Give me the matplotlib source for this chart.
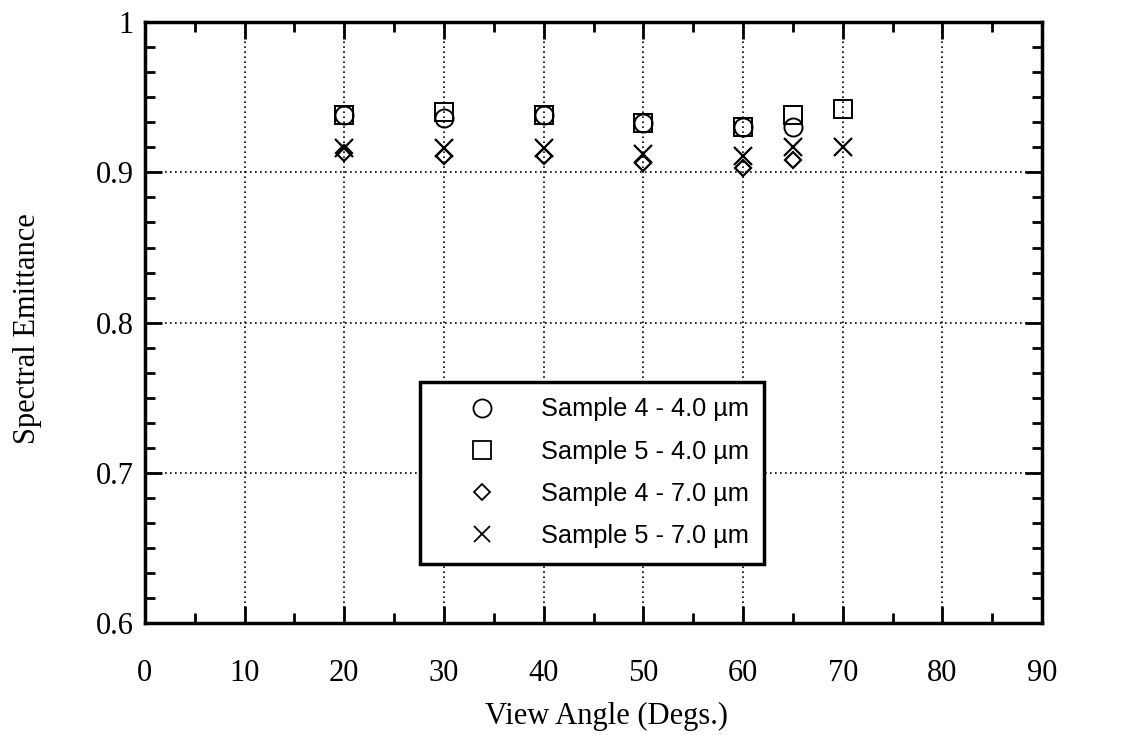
import numpy as np
import matplotlib.pyplot as plt
from matplotlib.ticker import MultipleLocator

# data
x_s4_40 = [20, 30, 40, 50, 60, 65]
y_s4_40 = [0.938, 0.936, 0.938, 0.933, 0.930, 0.930]

x_s5_40 = [20, 30, 40, 50, 60, 65, 70]
y_s5_40 = [0.938, 0.940, 0.938, 0.933, 0.930, 0.938, 0.942]

x_s4_70 = [20, 30, 40, 50, 60, 65]
y_s4_70 = [0.913, 0.911, 0.911, 0.906, 0.903, 0.908]

x_s5_70 = [20, 30, 40, 50, 60, 65, 70]
y_s5_70 = [0.916, 0.916, 0.916, 0.912, 0.911, 0.917, 0.917]

labels = ['Sample 4 - 4.0 µm', 'Sample 5 - 4.0 µm',
          'Sample 4 - 7.0 µm', 'Sample 5 - 7.0 µm']

serif = ['Liberation Serif', 'DejaVu Serif']
sans = ['Liberation Sans', 'DejaVu Sans']

fig = plt.figure(figsize=(11.23, 7.35), dpi=100)
ax = fig.add_axes([0.129, 0.152, 0.799, 0.818])

ax.plot(x_s4_40, y_s4_40, 'o', ms=13, mfc='none', mec='black', mew=1.4, label=labels[0])
ax.plot(x_s5_40, y_s5_40, 's', ms=13, mfc='none', mec='black', mew=1.4, label=labels[1])
ax.plot(x_s4_70, y_s4_70, 'D', ms=8.5, mfc='none', mec='black', mew=1.6, label=labels[2])
ax.plot(x_s5_70, y_s5_70, 'x', ms=13, mec='black', mew=1.6, label=labels[3])

ax.set_xlim(0, 90)
ax.set_ylim(0.6, 1.0)
ax.xaxis.set_major_locator(MultipleLocator(10))
ax.xaxis.set_minor_locator(MultipleLocator(5))
ax.yaxis.set_major_locator(MultipleLocator(0.1))
ax.yaxis.set_minor_locator(MultipleLocator(0.1 / 6))
ax.yaxis.set_major_formatter(plt.FuncFormatter(lambda v, p: '%g' % round(v, 2)))

ax.tick_params(which='both', direction='in', top=True, right=True, width=2, color='black')
ax.tick_params(which='major', length=12, labelsize=22)
ax.tick_params(which='minor', length=7)
ax.tick_params(axis='x', pad=26)
ax.tick_params(axis='y', pad=8)
for t in ax.get_xticklabels() + ax.get_yticklabels():
    t.set_family(serif)

for s in ax.spines.values():
    s.set_linewidth(2.5)

ax.grid(True, which='major', linestyle=(0, (1, 2)), color='black', linewidth=1.2)

ax.set_xlabel('View Angle (Degs.)', family=serif, fontsize=22)
ax.set_ylabel('Spectral Emittance', family=serif, fontsize=22)
ax.xaxis.set_label_coords(0.515, -0.131)
ax.yaxis.set_label_coords(-0.115, 0.49)

leg = ax.legend(loc='upper left', bbox_to_anchor=(0.3066, 0.401), frameon=True,
                fancybox=False, prop={'family': sans, 'size': 18.3},
                handletextpad=0.45, labelspacing=0.72, borderpad=0.6,
                handlelength=3.7, borderaxespad=0)
leg.get_frame().set_edgecolor('black')
leg.get_frame().set_linewidth(2.5)
leg.get_frame().set_alpha(1)
for h, ms in zip(leg.legend_handles, [13, 13, 8.5, 12]):
    h.set_markersize(ms)
    h.set_markeredgewidth(1.3)

fig.savefig('out.png', dpi=100)
